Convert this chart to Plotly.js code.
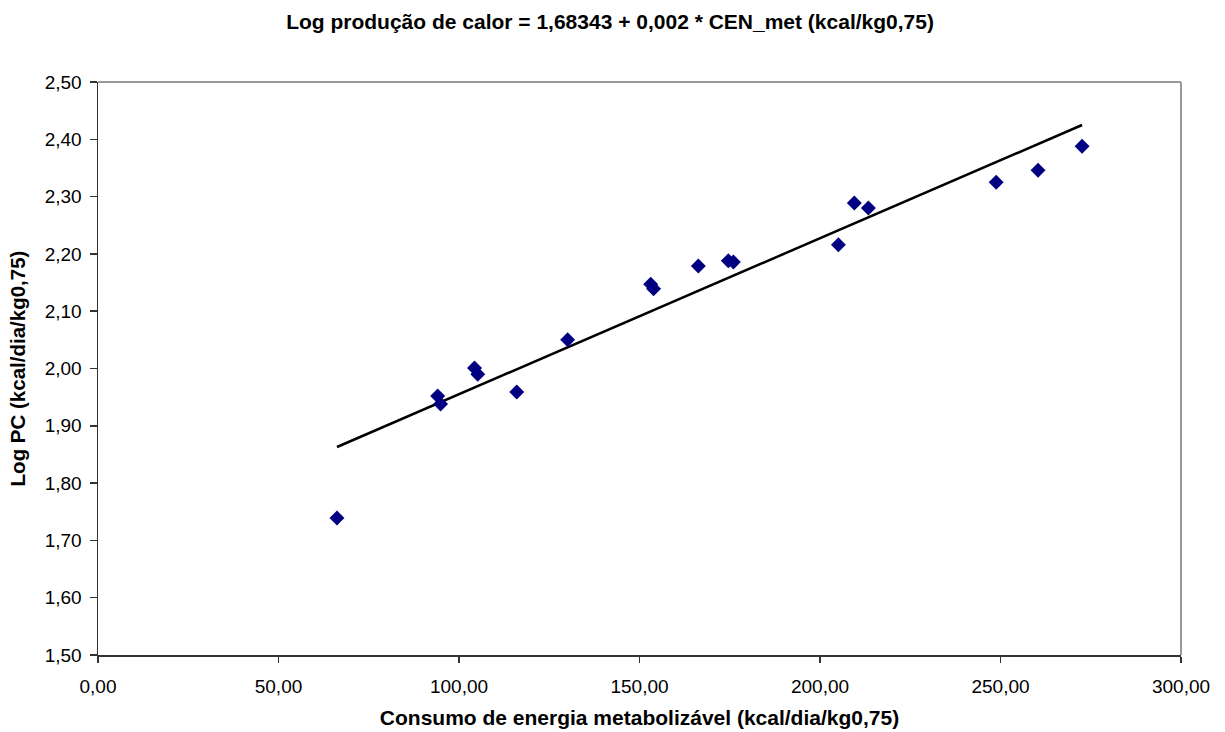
<!DOCTYPE html>
<html><head><meta charset="utf-8">
<script src="https://cdn.plot.ly/plotly-3.0.1.min.js"></script>
<style>body{margin:0;background:#fff}#c{width:1225px;height:732px}</style>
</head><body><div id="c"></div>
<script>
const consumo = [66.2, 94.1, 94.9, 104.3, 105.2, 116.0, 130.1, 153.1, 153.9, 166.3, 174.6, 176.0, 205.1, 209.5, 213.4, 248.8, 260.4, 272.6];
const logPC   = [1.739, 1.952, 1.938, 2.001, 1.990, 1.959, 2.050, 2.147, 2.139, 2.179, 2.188, 2.186, 2.216, 2.289, 2.280, 2.325, 2.346, 2.388];
const trendX = [66.2, 272.6];
const trendY = [1.863, 2.425];
const titleText = 'Log produção de calor = 1,68343 + 0,002 * CEN_met (kcal/kg0,75)';
const xTitle = 'Consumo de energia metabolizável (kcal/dia/kg0,75)';
const yTitle = 'Log PC (kcal/dia/kg0,75)';

const font = 'Liberation Sans, Arial, sans-serif';
const data = [
  {x: trendX, y: trendY, type: 'scatter', mode: 'lines', line: {color: '#000', width: 2.5}, hoverinfo: 'skip'},
  {x: consumo, y: logPC, type: 'scatter', mode: 'markers',
   marker: {symbol: 'diamond', size: 11.5, color: '#000080', line: {width: 0}}}
];
const layout = {
  width: 1225, height: 732,
  margin: {l: 98, r: 44, t: 82, b: 77},
  paper_bgcolor: '#fff', plot_bgcolor: '#fff',
  showlegend: false,
  separators: ', ',
  font: {family: font, color: '#000', size: 19},
  title: {text: '<b>' + titleText + '</b>', font: {size: 21, family: font}, x: 0.498, xanchor: 'center', y: 0.97, yanchor: 'middle'},
  xaxis: {
    range: [0, 300], dtick: 50, tickformat: '.2f',
    showgrid: false, zeroline: false,
    showline: true, linecolor: '#333', linewidth: 1.5,
    ticks: 'outside', ticklen: 6, tickcolor: '#333', tickwidth: 1.5,
    tickfont: {size: 19, family: font}, ticklabelstandoff: 8,
    title: {text: '<b>' + xTitle + '</b>', font: {size: 21, family: font}, standoff: 14}
  },
  yaxis: {
    range: [1.5, 2.5], dtick: 0.1, tickformat: '.2f',
    showgrid: false, zeroline: false,
    showline: true, linecolor: '#333', linewidth: 1.5,
    ticks: 'outside', ticklen: 7, tickcolor: '#333', tickwidth: 1.5,
    tickfont: {size: 19, family: font}, ticklabelstandoff: 4,
    title: {text: '<b>' + yTitle + '</b>', font: {size: 20.5, family: font}, standoff: 13}
  },
  shapes: [
    {type: 'line', xref: 'paper', yref: 'paper', x0: 0, x1: 1, y0: 1, y1: 1, line: {color: '#999', width: 2}},
    {type: 'line', xref: 'paper', yref: 'paper', x0: 1, x1: 1, y0: 0, y1: 1, line: {color: '#999', width: 2}}
  ]
};
Plotly.newPlot('c', data, layout, {displayModeBar: false, staticPlot: true});
</script></body></html>
